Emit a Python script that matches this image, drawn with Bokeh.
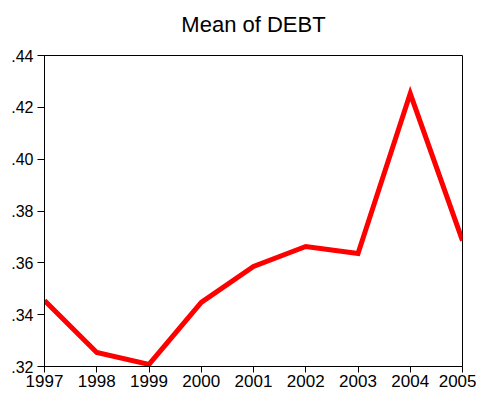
from bokeh.plotting import figure
from bokeh.models import FixedTicker, CustomJSTickFormatter, Range1d, Title
from bokeh.embed import file_html
from bokeh.resources import INLINE

years = [1997, 1998, 1999, 2000, 2001, 2002, 2003, 2004, 2005]
debt_mean = [0.3455, 0.3254, 0.3208, 0.3447, 0.3586, 0.3663, 0.3636, 0.4253, 0.3686]
y_ticks = [0.32, 0.34, 0.36, 0.38, 0.40, 0.42, 0.44]
title_text = "Mean of DEBT"

p = figure(width=476, height=396, output_backend="svg", toolbar_location=None,
           x_range=Range1d(1997, 2005), y_range=Range1d(0.32, 0.44),
           min_border_left=44, min_border_right=14, min_border_top=55, min_border_bottom=30)

spacer = Title(text=" ", text_font_size="10px", standoff=0)
main_title = Title(text=title_text, align="center", text_font="Liberation Sans",
                   text_font_size="22px", text_font_style="normal", text_color="black",
                   standoff=11)
p.add_layout(spacer, "above")
p.add_layout(main_title, "above")

p.line(years, debt_mean, line_color="#ff0000", line_width=5, line_join="miter")

p.xgrid.visible = False
p.ygrid.visible = False
p.outline_line_color = "black"
p.outline_line_width = 1
p.outline_line_alpha = 1

for ax in (p.xaxis[0], p.yaxis[0]):
    ax.major_label_text_font = "Liberation Sans"
    ax.major_label_text_color = "black"
    ax.axis_line_color = "black"
    ax.major_tick_line_color = "black"
    ax.major_tick_in = 0
    ax.minor_tick_line_color = None

p.xaxis.ticker = FixedTicker(ticks=years)
p.xaxis.major_label_text_font_size = "17px"
p.xaxis.major_tick_out = 6
p.xaxis.major_label_standoff = 2

p.yaxis.ticker = FixedTicker(ticks=y_ticks)
p.yaxis.formatter = CustomJSTickFormatter(code="return tick.toFixed(2).replace(/^0/, '');")
p.yaxis.major_label_text_font_size = "16px"
p.yaxis.major_tick_out = 7
p.yaxis.major_label_standoff = 4

open("out.html", "w").write(file_html(p, INLINE))
